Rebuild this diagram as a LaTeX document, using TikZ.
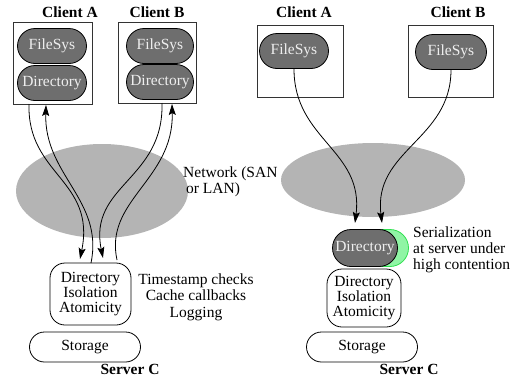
\documentclass[tikz,border=0pt]{standalone}
\usepackage{fontspec}
\setmainfont{Liberation Serif}
\usetikzlibrary{shapes.misc,shapes.geometric,arrows.meta}
\definecolor{pillgray}{HTML}{6E6E6E}
\definecolor{netgray}{HTML}{B4B4B4}
\definecolor{pilltext}{HTML}{EEEEEE}
\definecolor{shadowfill}{HTML}{90F5A5}
\definecolor{shadowline}{HTML}{30E050}
\tikzset{
  x=1pt, y=-1pt,
  every node/.style={font=\fontsize{15.5}{15.5}\selectfont, inner sep=0pt},
  title/.style={font=\fontsize{15.5}{15.5}\selectfont\bfseries},
  clientbox/.style={draw=black!80, line width=0.9pt},
  pill/.style={rounded rectangle, draw=black, line width=0.8pt, fill=pillgray,
    text=pilltext, minimum width=69pt, minimum height=35pt},
  whitepill/.style={rounded rectangle, draw=black, line width=0.8pt, fill=white,
    minimum width=111pt, minimum height=30pt},
  srvbox/.style={draw=black, line width=0.8pt, rounded corners=15pt, align=center,
    font=\fontsize{15.5}{15}\selectfont},
  net/.style={ellipse, fill=netgray, draw=none},
  arr/.style={line width=0.8pt, -{Stealth[length=11pt,width=7pt,inset=2pt]}},
}
\begin{document}
\begin{tikzpicture}
\useasboundingbox (0,0) rectangle (515,381);
% ---------------- left panel ----------------
\node[net, minimum width=172pt, minimum height=94pt] (netL) at (102,191) {};
\node[title] (tA) at (70,12) {Client A};
\node[title] (tB) at (157,12) {Client B};
\draw[clientbox] (13,22) rectangle (92,104);
\draw[clientbox] (118,22) rectangle (196,103);
\node[pill] (fsA) at (52,46) {FileSys};
\node[pill] (dirA) at (52,83) {Directory};
\node[pill, minimum width=67pt] (fsB) at (160,46) {FileSys};
\node[pill, minimum width=67pt] (dirB) at (160,82) {Directory};
\node[anchor=north west, align=left] (netlbl) at (183,167) {Network (SAN\\\hspace{3pt}or LAN)};
\node[srvbox, minimum width=81pt, minimum height=62pt, text depth=4pt] (srvL) at (90.5,294) {Directory\\Isolation\\Atomicity};
\node[align=center, font=\fontsize{15.5}{16.5}\selectfont] (notes) at (196,297) {Timestamp checks\\Cache callbacks\\Logging};
\node[whitepill] (stL) at (85,347) {Storage};
\node[title] (sC) at (130,369) {Server C};
% connectors
\coordinate (a1s) at (29,104);
\coordinate (a1e) at (80,259);
\coordinate (a2s) at (91,263);
\coordinate (a2e) at (46,105);
\coordinate (b1s) at (162,103);
\coordinate (b1e) at (103,258);
\coordinate (b2s) at (117,260);
\coordinate (b2e) at (172,104);
\draw[arr] (a1s) .. controls (27,175) and (96,180) .. (a1e);
\draw[arr] (a2s) .. controls (104,200) and (44,175) .. (a2e);
\draw[arr] (b1s) .. controls (164,180) and (88,185) .. (b1e);
\draw[arr] (b2s) .. controls (104,200) and (174,180) .. (b2e);
% ---------------- right panel ----------------
\node[net, minimum width=184pt, minimum height=74pt] (netR) at (373,180) {};
\node[title] (tA2) at (304,12) {Client A};
\node[title] (tB2) at (458,12) {Client B};
\draw[clientbox] (257,25) rectangle (343,97);
\draw[clientbox] (408,25) rectangle (493,97);
\node[pill] (fsA2) at (294,51) {FileSys};
\node[pill, minimum width=71pt] (fsB2) at (451,52) {FileSys};
\node[rounded rectangle, draw=shadowline, line width=0.8pt, fill=shadowfill,
  minimum width=65pt, minimum height=37pt] (shadow) at (376,248) {};
\node[pill, minimum width=65pt, minimum height=37pt] (dirR) at (365,248) {Directory};
\node[anchor=north west, align=left, font=\fontsize{15.5}{16}\selectfont] (serlbl) at (413,227) {Serialization\\at server under\\high contention};
\node[srvbox, minimum width=74pt, minimum height=58pt, text depth=4pt] (srvR) at (364,298) {Directory\\Isolation\\Atomicity};
\node[whitepill] (stR) at (362,347) {Storage};
\node[title] (sC2) at (409,369) {Server C};
\draw[arr] (fsA2.south) .. controls (294,140) and (364,150) .. (355,223);
\draw[arr] (fsB2.south) .. controls (451,140) and (373,150) .. (382,223);
\end{tikzpicture}
\end{document}
